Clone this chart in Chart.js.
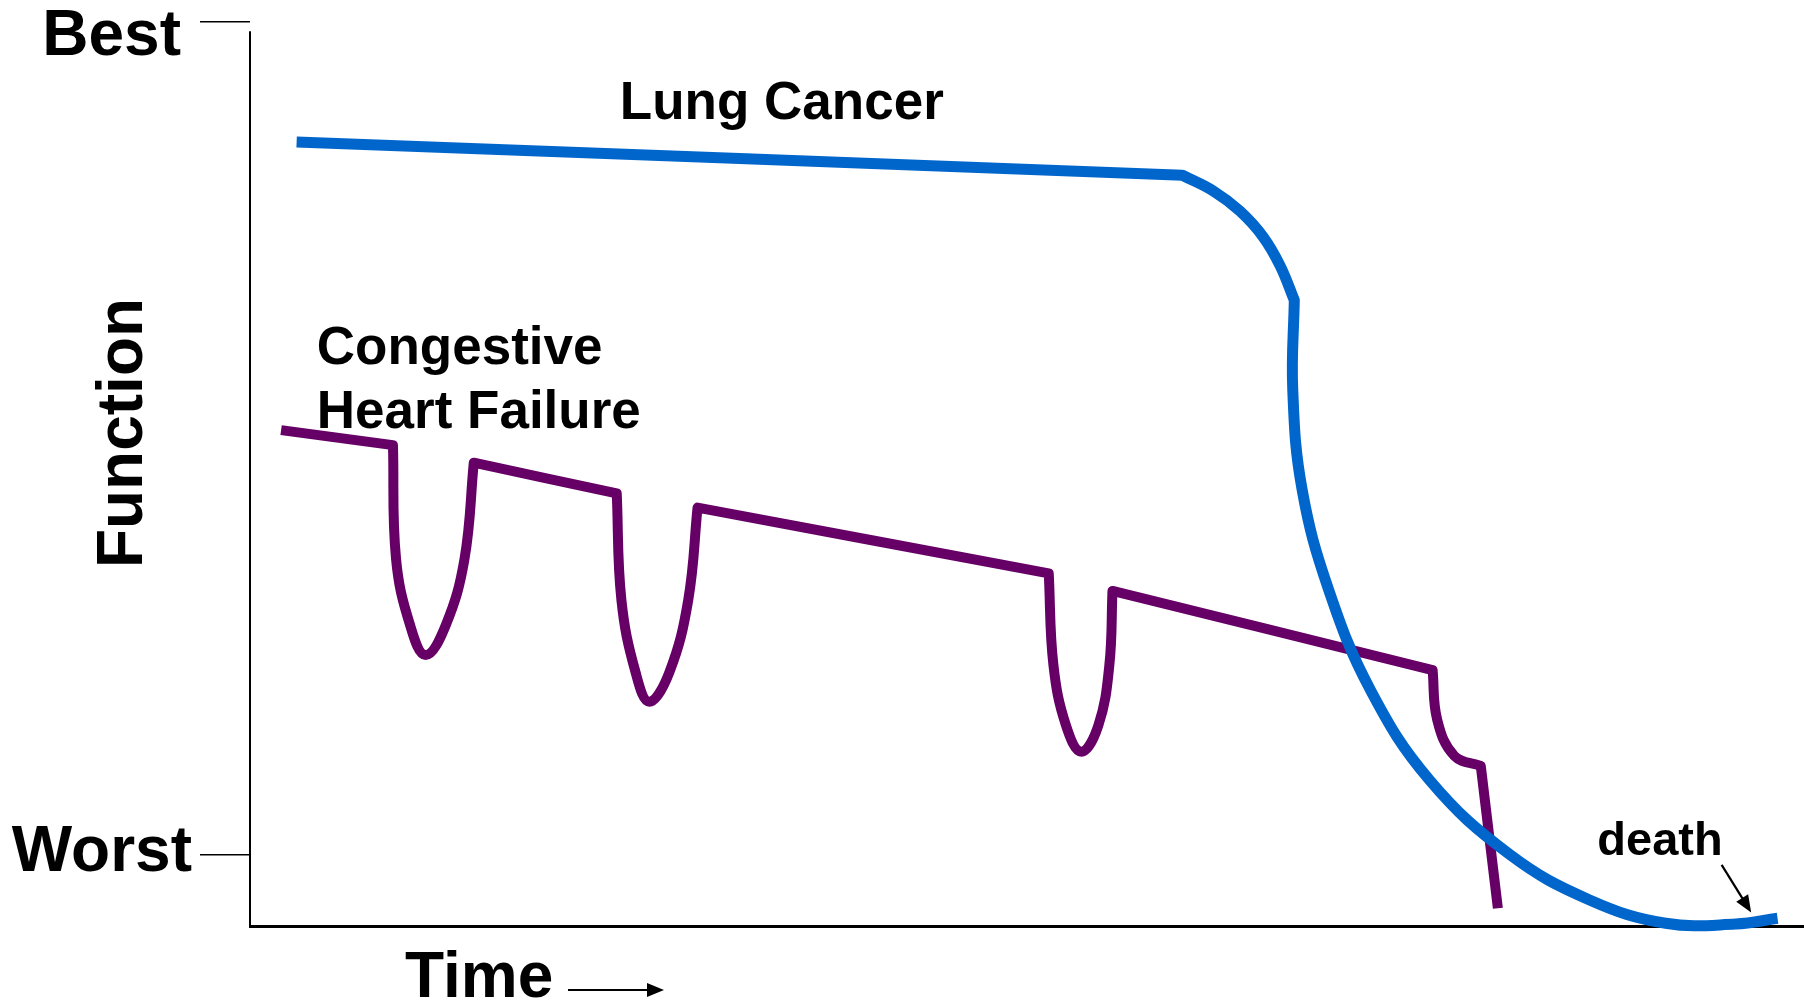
<!DOCTYPE html>
<html lang="en">
<head>
<meta charset="UTF-8">
<title>Function over time: Lung Cancer vs Congestive Heart Failure</title>
<script src="https://cdn.jsdelivr.net/npm/chart.js@4/dist/chart.umd.min.js"></script>
<style>
  html, body { margin: 0; padding: 0; background: #fff; }
  #wrap { width: 1804px; height: 1002px; }
</style>
</head>
<body>
<div id="wrap"><canvas id="chart"></canvas></div>
<script>
// y: 0 = worst function, 100 = best; x: time (arbitrary units, 0..100)
const yTicks = [0, 100];
const yTickLabels = { 0: 'Worst', 100: 'Best' };

// Lung cancer: slow decline, then a steep fall to death
const lungX = [3.0, 60.0, 62.0, 63.7, 65.2, 66.3, 67.2, 67.1, 67.7, 69.4, 72.1, 75.9, 81.1, 86.2, 91.1, 95.6, 98.3];
const lungY = [85.6, 81.6, 79.7, 77.3, 74.2, 70.7, 66.6, 55.9, 43.9, 31.9, 19.8, 9.0, 0.0, -5.4, -8.2, -8.3, -7.6];
const lungCorners = [1, 6];

// Congestive heart failure: decline with acute dips
const chfX = [2.0, 9.2, 9.4, 10.3, 11.3, 12.6, 13.8, 14.4,
              23.6, 23.9, 24.8, 25.7, 27.0, 28.2, 28.8,
              51.4, 51.7, 52.5, 53.5, 54.6, 55.3, 55.5,
              76.1, 76.4, 77.5, 79.2, 80.3];
const chfY = [51.0, 49.2, 35.5, 27.6, 24.0, 27.6, 35.5, 47.1,
              43.4, 30.6, 22.0, 18.4, 22.0, 30.6, 41.7,
              33.8, 22.8, 15.6, 12.4, 15.6, 22.8, 31.7,
              22.2, 16.2, 11.9, 10.7, -6.4];
const chfCorners = [1, 7, 8, 14, 15, 21, 22, 25];

const FONT = "'Liberation Sans', Arial, sans-serif";

// a doubled point keeps a sharp corner while the rest of the line stays curved
function toPoints(xs, ys, corners) {
  const pts = [];
  xs.forEach((x, i) => {
    pts.push({ x: x, y: ys[i] });
    if (corners.includes(i)) pts.push({ x: x, y: ys[i] });
  });
  return pts;
}

function arrow(ctx, x1, y1, x2, y2) {
  const a = Math.atan2(y2 - y1, x2 - x1);
  const len = 17, half = 7;
  const c = Math.cos(a), s = Math.sin(a);
  ctx.beginPath();
  ctx.moveTo(x1, y1);
  ctx.lineTo(x2 - c * len * 0.8, y2 - s * len * 0.8);
  ctx.stroke();
  ctx.beginPath();
  ctx.moveTo(x2, y2);
  ctx.lineTo(x2 - c * len - s * half, y2 - s * len + c * half);
  ctx.lineTo(x2 - c * len + s * half, y2 - s * len - c * half);
  ctx.closePath();
  ctx.fill();
}

// Best / Worst sit a little differently against their tick marks
const tickLabelPlace = { 100: { gap: 19, dy: 33 }, 0: { gap: 8, dy: 16 } };

const axisLine = {
  id: 'axisLine',
  beforeDatasetsDraw(chart) {
    const { ctx, chartArea, scales: { y } } = chart;
    ctx.save();
    ctx.strokeStyle = '#000';
    ctx.lineWidth = 2;
    ctx.beginPath();
    ctx.moveTo(chartArea.left, y.getPixelForValue(98.9));
    ctx.lineTo(chartArea.left, chartArea.bottom);
    ctx.stroke();
    ctx.restore();
  }
};

const notes = {
  id: 'notes',
  afterDatasetsDraw(chart) {
    const { ctx, chartArea, scales: { x, y } } = chart;
    ctx.save();
    ctx.fillStyle = '#000';
    ctx.strokeStyle = '#000';
    ctx.lineWidth = 2.2;
    ctx.textBaseline = 'alphabetic';

    // y tick labels
    ctx.font = 'bold 64px ' + FONT;
    ctx.textAlign = 'right';
    const tl = y.options.grid.tickLength;
    yTicks.forEach(v => {
      const p = tickLabelPlace[v];
      ctx.fillText(yTickLabels[v], chartArea.left - tl - p.gap, y.getPixelForValue(v) + p.dy);
    });

    ctx.textAlign = 'left';
    ctx.font = 'bold 53px ' + FONT;
    ctx.fillText('Lung Cancer', x.getPixelForValue(23.8), y.getPixelForValue(88.3));
    ctx.fillText('Congestive', x.getPixelForValue(4.3), y.getPixelForValue(58.9));
    ctx.fillText('Heart Failure', x.getPixelForValue(4.3), y.getPixelForValue(51.3));

    ctx.font = 'bold 47px ' + FONT;
    ctx.fillText('death', x.getPixelForValue(86.7), y.getPixelForValue(0));
    arrow(ctx, x.getPixelForValue(94.7), y.getPixelForValue(-1.2), x.getPixelForValue(96.6), y.getPixelForValue(-6.9));

    // axis titles
    ctx.font = 'bold 64px ' + FONT;
    ctx.fillText('Time', chartArea.left + 155, chartArea.bottom + 71);
    arrow(ctx, chartArea.left + 318, chartArea.bottom + 64, chartArea.left + 414, chartArea.bottom + 64);

    ctx.translate(chartArea.left - 108, (chartArea.top + chartArea.bottom) / 2 - 41);
    ctx.rotate(-Math.PI / 2);
    ctx.textAlign = 'center';
    ctx.fillText('Function', 0, 0);
    ctx.restore();
  }
};

const ctx = document.getElementById('chart').getContext('2d');
new Chart(ctx, {
  type: 'line',
  data: {
    datasets: [{
      label: 'Lung Cancer',
      data: toPoints(lungX, lungY, lungCorners),
      borderColor: '#0066cc',
      borderWidth: 11,
      clip: false
    }, {
      label: 'Congestive Heart Failure',
      data: toPoints(chfX, chfY, chfCorners),
      borderColor: '#660066',
      borderWidth: 10,
      clip: false
    }]
  },
  options: {
    responsive: true,
    maintainAspectRatio: false,
    animation: false,
    events: [],
    layout: { padding: { top: 22, left: 0, right: 0, bottom: 0 } },
    elements: {
      line: { tension: 0.4, capBezierPoints: false, borderJoinStyle: 'round', borderCapStyle: 'butt', fill: false },
      point: { radius: 0 }
    },
    plugins: { legend: { display: false }, tooltip: { enabled: false } },
    scales: {
      x: {
        type: 'linear', min: 0, max: 100,
        grid: { display: false },
        ticks: { display: false },
        border: { display: true, color: '#000', width: 3 },
        afterFit: s => { s.height = 76; s.paddingLeft = 0; s.paddingRight = 0; }
      },
      y: {
        type: 'linear', min: -8.53, max: 100,
        afterBuildTicks: s => { s.ticks = yTicks.map(v => ({ value: v })); },
        ticks: { display: false },
        grid: { drawOnChartArea: false, drawTicks: true, tickLength: 50, color: '#000', lineWidth: 1.5 },
        border: { display: false },
        afterFit: s => { s.width = 250; s.paddingTop = 0; s.paddingBottom = 0; }
      }
    }
  },
  plugins: [axisLine, notes]
});
</script>
</body>
</html>
